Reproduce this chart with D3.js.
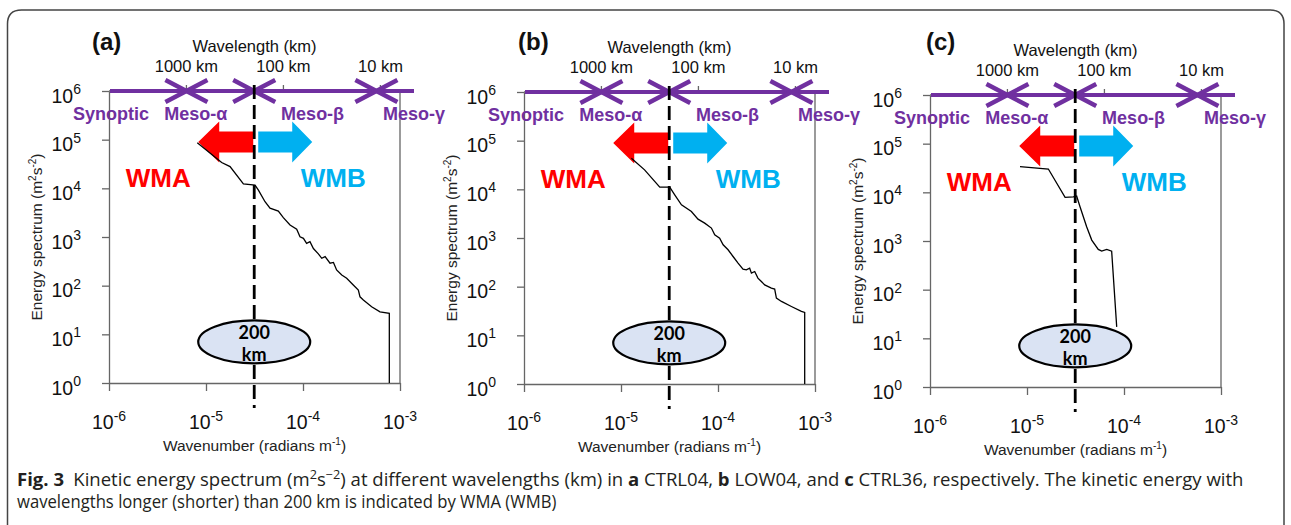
<!DOCTYPE html>
<html>
<head>
  <meta charset="utf-8">
  <script src="https://d3js.org/d3.v7.min.js"></script>
  <style>
    body { margin: 0; background: #fff; }
    svg { display: block; font-family: 'Liberation Sans', Arial, sans-serif; }
  </style>
</head>
<body>
  <div id="my_dataviz"></div>
  <script>
    // ---- data ----
    // wavenumber (radians m^-1) and kinetic energy (m^2 s^-2) for each run
    var kA = [8.13e-6, 1.45e-5, 1.77e-5, 2.43e-5, 3.20e-5, 3.47e-5, 4.06e-5, 4.57e-5, 5.57e-5, 6.27e-5,
              7.35e-5, 8.61e-5, 9.31e-5, 1.01e-4, 1.09e-4, 1.18e-4, 1.28e-4, 1.44e-4, 1.56e-4, 1.69e-4,
              1.90e-4, 2.06e-4, 2.22e-4, 2.51e-4, 2.82e-4, 3.30e-4, 3.72e-4, 3.87e-4, 4.19e-4, 5.10e-4,
              6.22e-4, 7.76e-4, 7.76e-4];
    var eA = [86500, 34000, 28000, 12300, 11700, 9200, 5300, 3900, 3400, 2500,
              1760, 1440, 1010, 940, 740, 800, 580, 450, 365, 395,
              290, 300, 210, 166, 142, 103, 81, 59, 51, 37,
              29, 27, 1];
    var kB = [1.28e-5, 1.75e-5, 2.51e-5, 3.18e-5, 3.58e-5, 4.20e-5, 5.32e-5, 6.22e-5, 7.29e-5, 8.55e-5,
              9.25e-5, 1.04e-4, 1.13e-4, 1.27e-4, 1.43e-4, 1.61e-4, 1.81e-4, 1.96e-4, 2.12e-4, 2.21e-4,
              2.39e-4, 2.58e-4, 2.80e-4, 3.03e-4, 3.55e-4, 3.84e-4, 4.00e-4, 4.51e-4, 5.71e-4, 7.24e-4,
              7.83e-4, 7.83e-4];
    var eB = [43700, 25100, 11100, 11100, 7710, 4810, 3500, 2440, 2020, 1600,
              1160, 995, 725, 573, 417, 305, 230, 222, 241, 190,
              205, 150, 128, 109, 93.5, 89.3, 58.3, 49.7, 39.2, 31.0,
              29.5, 1];
    var kC = [8.47e-6, 1.66e-5, 2.47e-5, 3.00e-5, 3.25e-5, 3.52e-5, 4.12e-5, 4.65e-5, 5.43e-5, 5.89e-5,
              6.64e-5, 7.46e-5, 8.41e-5];
    var eC = [33700, 30100, 7900, 8100, 8400, 5060, 1960, 1045, 671, 620,
              671, 620, 17.2];

    var panelNames = ["(a)", "(b)", "(c)"];
    var xTickValues = [1e-6, 1e-5, 1e-4, 1e-3];
    var xTickLabels = ["-6", "-5", "-4", "-3"];
    var yTickValues = [1, 10, 100, 1e3, 1e4, 1e5, 1e6];
    var yTickLabels = ["0", "1", "2", "3", "4", "5", "6"];
    var wavelengthTicks = [1000, 100, 10];            // km
    var wavelengthTickLabels = ["1000 km", "100 km", "10 km"];
    var scaleBounds = [1000, 200, 11];                // km, borders between the scale bands
    var scaleNames = ["Synoptic", "Meso-\u03b1", "Meso-\u03b2", "Meso-\u03b3"];
    var scaleNameAt = [6000, 800, 50, 4.5];           // km
    var divideKm = 200;

    var series = [[kA, eA], [kB, eB], [kC, eC]];

    // ---- layout of each sub plot (pixels) ----
    var frames = [
      { left: 109, right: 400, top: 91, bottom: 383, tag: 92 },
      { left: 524, right: 815, top: 92, bottom: 384, tag: 518 },
      { left: 930, right: 1221, top: 95, bottom: 387, tag: 926 }
    ];

    var purple = "#7030A0", axisGrey = "#666";

    function kOfKm(km) { return 2 * Math.PI / (km * 1000); }

    var svg = d3.select("#my_dataviz")
      .append("svg")
      .attr("width", 1291)
      .attr("height", 525);

    // outer figure box, open at the bottom
    svg.append("path")
      .attr("d", "M7.5,525 V24 Q7.5,10 21.5,10 H1270 Q1284,10 1284,24 V525")
      .attr("fill", "none")
      .attr("stroke", "#444")
      .attr("stroke-width", 1.5);

    frames.forEach(function (f, i) {
      var x = d3.scaleLog().domain([1e-6, 1e-3]).range([f.left, f.right]);
      var y = d3.scaleLog().domain([1, 1e6]).range([f.bottom, f.top]);
      var g = svg.append("g");
      var xd = x(kOfKm(divideKm));

      // axes
      var xAxis = g.append("g")
        .attr("transform", "translate(0," + f.bottom + ")")
        .call(d3.axisBottom(x).tickValues(xTickValues).tickSize(8).tickSizeOuter(0).tickFormat(""));
      var yAxis = g.append("g")
        .attr("transform", "translate(" + f.left + ",0)")
        .call(d3.axisLeft(y).tickValues(yTickValues).tickSize(7).tickSizeOuter(0).tickFormat(""));
      [xAxis, yAxis].forEach(function (a) {
        a.selectAll("path, line").attr("stroke", axisGrey).attr("stroke-width", 1.3);
      });
      g.append("path")
        .attr("d", "M" + f.left + "," + f.top + "H" + f.right + "V" + f.bottom)
        .attr("fill", "none").attr("stroke", axisGrey).attr("stroke-width", 1.3);

      // wavelength ticks on top
      g.selectAll(".wt").data(wavelengthTicks).enter().append("line")
        .attr("x1", function (d) { return x(kOfKm(d)); })
        .attr("x2", function (d) { return x(kOfKm(d)); })
        .attr("y1", f.top).attr("y2", f.top - 6)
        .attr("stroke", axisGrey).attr("stroke-width", 1.3);

      // y tick labels
      g.selectAll(".yl").data(yTickValues).enter().append("text")
        .attr("x", f.left - 28)
        .attr("y", function (d) { return y(d) + 11.5; })
        .attr("text-anchor", "end")
        .attr("font-size", 19.5)
        .attr("fill", "#111")
        .each(function (d, j) {
          var t = d3.select(this);
          t.append("tspan").text("10");
          t.append("tspan").attr("dy", -8.5).attr("font-size", 14).text(yTickLabels[j]);
        });

      // x tick labels
      g.selectAll(".xl").data(xTickValues).enter().append("text")
        .attr("x", function (d) { return x(d); })
        .attr("y", f.bottom + 46)
        .attr("text-anchor", "middle")
        .attr("font-size", 19.5)
        .attr("fill", "#111")
        .each(function (d, j) {
          var t = d3.select(this);
          t.append("tspan").text("10");
          t.append("tspan").attr("dy", -8.5).attr("font-size", 14).text(xTickLabels[j]);
        });

      // axis titles
      var xt = g.append("text")
        .attr("x", (f.left + f.right) / 2)
        .attr("y", f.bottom + 68)
        .attr("text-anchor", "middle")
        .attr("font-size", 15.5)
        .attr("fill", "#222");
      xt.append("tspan").text("Wavenumber (radians m");
      xt.append("tspan").attr("dy", -6).attr("font-size", 10).text("-1");
      xt.append("tspan").attr("dy", 6).text(")");

      var yt = g.append("text")
        .attr("transform", "translate(" + (f.left - 67) + "," + ((f.top + f.bottom) / 2) + ") rotate(-90)")
        .attr("text-anchor", "middle")
        .attr("font-size", 15.5)
        .attr("fill", "#222");
      yt.append("tspan").text("Energy spectrum (m");
      yt.append("tspan").attr("dy", -6).attr("font-size", 10).text("2");
      yt.append("tspan").attr("dy", 6).text("s");
      yt.append("tspan").attr("dy", -6).attr("font-size", 10).text("-2");
      yt.append("tspan").attr("dy", 6).text(")");

      // wavelength labels
      g.append("text")
        .attr("x", (f.left + f.right) / 2)
        .attr("y", f.top - 39)
        .attr("text-anchor", "middle")
        .attr("font-size", 16.5)
        .attr("fill", "#111")
        .text("Wavelength (km)");
      g.selectAll(".wl").data(wavelengthTicks).enter().append("text")
        .attr("x", function (d) { return x(kOfKm(d)); })
        .attr("y", f.top - 19.5)
        .attr("text-anchor", "middle")
        .attr("font-size", 16.5)
        .attr("fill", "#111")
        .text(function (d, j) { return wavelengthTickLabels[j]; });

      // panel tag
      g.append("text")
        .attr("x", f.tag)
        .attr("y", 50)
        .attr("font-size", 24)
        .attr("font-weight", "bold")
        .attr("fill", "#111")
        .text(panelNames[i]);

      // scale bands: purple line with chevrons
      g.append("line")
        .attr("x1", f.left + 1).attr("x2", f.right + 14)
        .attr("y1", f.top).attr("y2", f.top)
        .attr("stroke", purple).attr("stroke-width", 4);
      scaleBounds.forEach(function (km) {
        var bx = x(kOfKm(km));
        [-1, 1].forEach(function (s) {
          g.append("path")
            .attr("d", "M" + (bx + s * 21) + "," + (f.top - 11) + "L" + bx + "," + f.top + "L" + (bx + s * 21) + "," + (f.top + 11))
            .attr("fill", "none")
            .attr("stroke", purple)
            .attr("stroke-width", 4.5);
        });
      });
      g.selectAll(".sn").data(scaleNames).enter().append("text")
        .attr("x", function (d, j) { return x(kOfKm(scaleNameAt[j])); })
        .attr("y", f.top + 29)
        .attr("text-anchor", "middle")
        .attr("font-size", 18)
        .attr("font-weight", "bold")
        .attr("fill", purple)
        .text(function (d) { return d; });

      // WMA / WMB block arrows
      var yc = y(9e4);
      g.append("path")
        .attr("d", "M" + (xd - 56) + "," + yc + "L" + (xd - 35) + "," + (yc - 20.5) + "V" + (yc - 10.5) +
          "H" + (xd - 1) + "V" + (yc + 10.5) + "H" + (xd - 35) + "V" + (yc + 20.5) + "Z")
        .attr("fill", "#FF0000");
      g.append("path")
        .attr("d", "M" + (xd + 58) + "," + yc + "L" + (xd + 38) + "," + (yc - 20.5) + "V" + (yc - 10.5) +
          "H" + (xd + 4) + "V" + (yc + 10.5) + "H" + (xd + 38) + "V" + (yc + 20.5) + "Z")
        .attr("fill", "#00B0F0");
      g.append("text")
        .attr("x", xd - 96).attr("y", f.top + 96)
        .attr("text-anchor", "middle")
        .attr("font-size", 26).attr("font-weight", "bold")
        .attr("fill", "#FF0000")
        .text("WMA");
      g.append("text")
        .attr("x", xd + 79).attr("y", f.top + 96)
        .attr("text-anchor", "middle")
        .attr("font-size", 26).attr("font-weight", "bold")
        .attr("fill", "#00B0F0")
        .text("WMB");

      // 200 km divide
      g.append("line")
        .attr("x1", xd).attr("x2", xd)
        .attr("y1", f.top - 6).attr("y2", f.bottom + 25)
        .attr("stroke", "#000")
        .attr("stroke-width", 2.8)
        .attr("stroke-dasharray", "14,6");

      // spectrum
      var pts = d3.zip(series[i][0], series[i][1]);
      g.append("path")
        .datum(pts)
        .attr("fill", "none")
        .attr("stroke", "#000")
        .attr("stroke-width", 1.3)
        .attr("d", d3.line()
          .x(function (d) { return x(d[0]); })
          .y(function (d) { return y(d[1]); }));

      // 200 km bubble
      var cy = y(7);
      g.append("ellipse")
        .attr("cx", xd).attr("cy", cy)
        .attr("rx", 56).attr("ry", 21.5)
        .attr("fill", "#DAE3F3")
        .attr("stroke", "#000")
        .attr("stroke-width", 2.2);
      g.append("text")
        .attr("x", xd).attr("y", cy - 2.5)
        .attr("text-anchor", "middle")
        .attr("font-family", "Lato, 'Open Sans', sans-serif")
        .attr("font-weight", "bold").attr("font-size", 18)
        .text("200");
      g.append("text")
        .attr("x", xd).attr("y", cy + 19)
        .attr("text-anchor", "middle")
        .attr("font-family", "Lato, 'Open Sans', sans-serif")
        .attr("font-weight", "bold").attr("font-size", 18)
        .text("km");
    });

    // ---- caption ----
    var cap = svg.append("g")
      .attr("font-family", "'Open Sans', sans-serif")
      .attr("font-size", 17.5)
      .attr("fill", "#231f20");
    var l1 = cap.append("text").attr("y", 486);
    l1.append("tspan").attr("font-weight", "bold").text("Fig. 3");
    l1.append("tspan").text("\u2002Kinetic energy spectrum (m");
    l1.append("tspan").attr("dy", -7).attr("font-size", 12).text("2");
    l1.append("tspan").attr("dy", 7).text("s");
    l1.append("tspan").attr("dy", -7).attr("font-size", 12).text("\u22122");
    l1.append("tspan").attr("dy", 7).text(") at different wavelengths (km) in ");
    l1.append("tspan").attr("font-weight", "bold").text("a");
    l1.append("tspan").text(" CTRL04, ");
    l1.append("tspan").attr("font-weight", "bold").text("b");
    l1.append("tspan").text(" LOW04, and ");
    l1.append("tspan").attr("font-weight", "bold").text("c");
    l1.append("tspan").text(" CTRL36, respectively. The kinetic energy with");
    var l2 = cap.append("text").attr("y", 508)
      .text("wavelengths longer (shorter) than 200 km is indicated by WMA (WMB)");
    var sx1 = 1228 / l1.node().getComputedTextLength();
    var sx2 = 540 / l2.node().getComputedTextLength();
    l1.attr("transform", "translate(17,0) scale(" + sx1 + ",1)");
    l2.attr("transform", "translate(17,0) scale(" + sx2 + ",1)");
  </script>
</body>
</html>
